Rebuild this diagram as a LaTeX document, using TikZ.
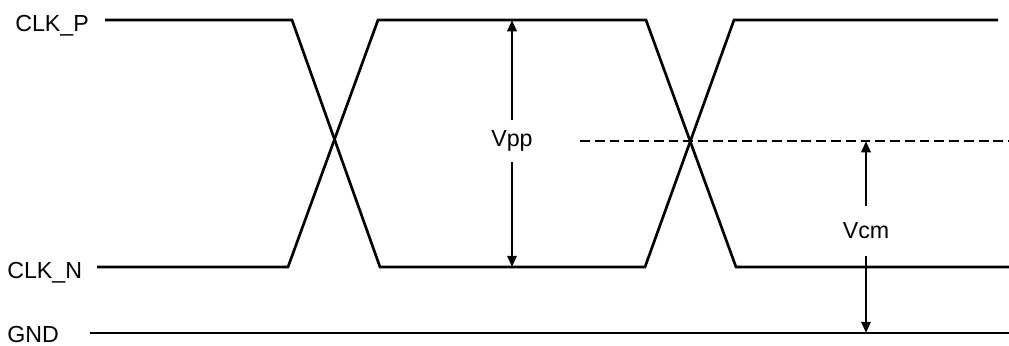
\documentclass[tikz,border=0pt]{standalone}
\usepackage{fontspec}
\setmainfont{Liberation Sans}
\usetikzlibrary{arrows.meta, positioning, calc}

\tikzset{
	sig/.style={line width=1.9pt, line join=miter},
	dimarrow/.style={line width=1.9pt, -{Triangle[length=8pt, width=6.5pt]}},
	lbl/.style={font=\fontsize{16.5}{19}\selectfont, inner sep=0pt}
}

\begin{document}
\begin{tikzpicture}[x=0.025cm, y=-0.025cm]

			\useasboundingbox (0,0) rectangle (1009,345);

			% signal names
			\node [lbl, anchor=base west] (clkp) at (15,31) {CLK\_P};
			\node [lbl, anchor=base west] (clkn) at (7,278) {CLK\_N};
			\node [lbl, anchor=base west] (gnd) at (7,342) {GND};

			% waveforms
			\draw [sig] (105,20) -- (292,20) -- (380,267) -- (645,267) -- (734,20) -- (998,20);
			\draw [sig] (97,267) -- (288,267) -- (378,20) -- (646,20) -- (736,267) -- (1009,267);
			\draw [sig] (90,333) -- (1009,333);
			\draw [sig, dash pattern=on 7pt off 3.5pt] (580,141) -- (1009,141);

			% Vpp
			\coordinate (ptop) at (512,20);
			\coordinate (pbot) at (512,267);
			\node [lbl, inner ysep=7pt] (vpp) at (512,141) {Vpp};
			\draw [dimarrow] (vpp) -- (ptop);
			\draw [dimarrow] (vpp) -- (pbot);

			% Vcm
			\coordinate (mtop) at (866,141);
			\coordinate (mbot) at (866,333);
			\node [lbl, inner ysep=12pt] (vcm) at (866,231) {Vcm};
			\draw [dimarrow] (vcm) -- (mtop);
			\draw [dimarrow] (vcm) -- (mbot);
			\end{tikzpicture}
\end{document}
